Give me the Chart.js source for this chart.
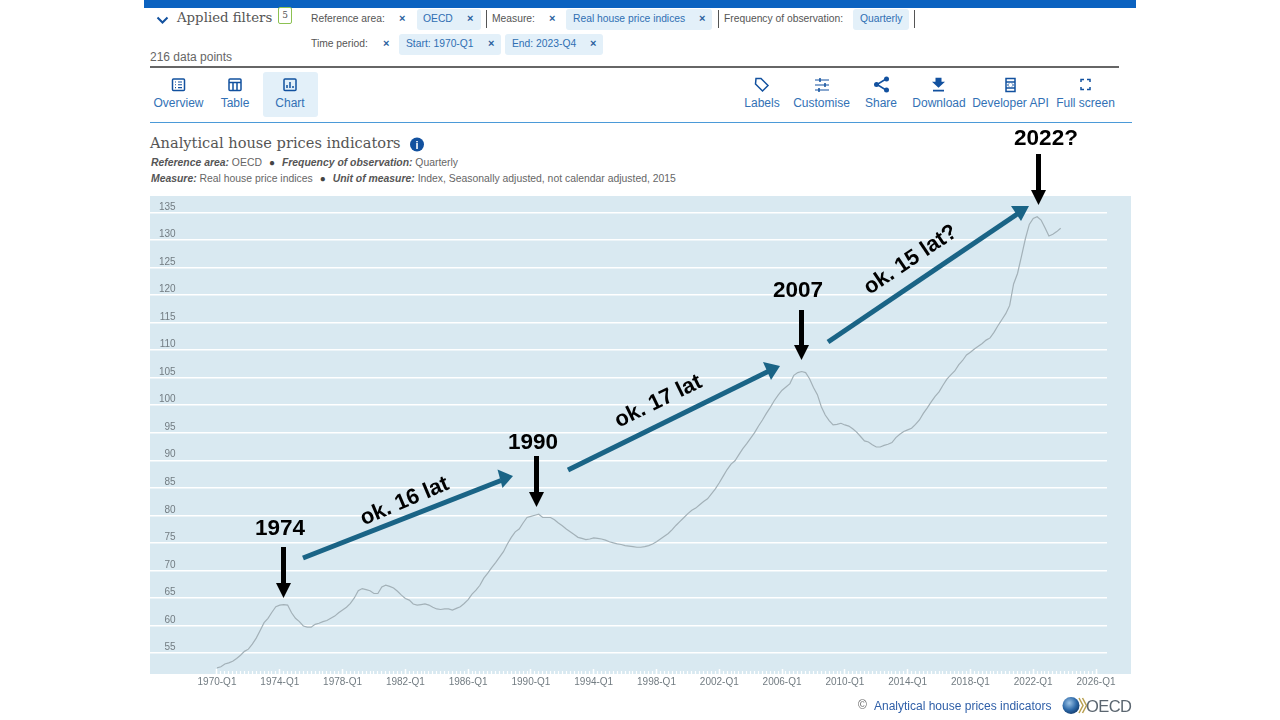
<!DOCTYPE html>
<html lang="en">
<head>
<meta charset="utf-8">
<title>Analytical house prices indicators</title>
<script src="https://cdn.jsdelivr.net/npm/chart.js@4/dist/chart.umd.min.js"></script>
<style>
html,body{margin:0;padding:0;background:#fff;width:1280px;height:720px;overflow:hidden;font-family:"Liberation Sans",Arial,sans-serif}
.t{position:absolute;white-space:nowrap;line-height:16px;height:16px}
.lab{font-size:10.3px;color:#555}
.chip{position:absolute;background:#e3f0f9;border-radius:3px}
.ct{color:#2f6fb3;font-size:10.3px}
.x{color:#2a5f9e;font-size:11px;font-weight:bold}
.bar{position:absolute;width:1px;background:#555}
.tab{color:#3271b5;font-size:12px;text-align:center;transform:translateX(-50%)}
.sub{font-size:10.4px;color:#666}
.sub b{font-style:italic;color:#555}
.dot{color:#444;margin:0 7px;font-size:10px}
.serif{font-family:"DejaVu Serif",serif;color:#555}
#top,#plotbg,#rule1,#rule2,#chartTab{position:absolute}
canvas,#ann{position:absolute;left:0;top:0}
</style>
</head>
<body>
<div id="top" style="left:144px;top:0;width:992px;height:8px;background:#0b62c0"></div>
<div id="plotbg" style="left:150px;top:196px;width:981px;height:478px;background:#d9e9f1"></div>

<div class="t serif" style="left:177px;top:10px;font-size:13.3px">Applied filters</div>
<div style="position:absolute;left:278px;top:7px;width:12px;height:15px;border:1.5px solid #8cc152;border-radius:2px;color:#555;font:9px 'DejaVu Serif',serif;text-align:center;line-height:15px">5</div>

<div class="t lab" style="left:311px;top:11px">Reference area:</div>
<div class="t x" style="left:399px;top:10px">×</div>
<div class="chip" style="left:417px;top:9px;width:64px;height:21px"></div>
<div class="t ct" style="left:423px;top:11px">OECD</div>
<div class="t x" style="left:467px;top:10px">×</div>
<div class="bar" style="left:486px;top:10px;height:18px"></div>
<div class="t lab" style="left:492px;top:11px">Measure:</div>
<div class="t x" style="left:549px;top:10px">×</div>
<div class="chip" style="left:566px;top:9px;width:146px;height:21px"></div>
<div class="t ct" style="left:573px;top:11px">Real house price indices</div>
<div class="t x" style="left:699px;top:10px">×</div>
<div class="bar" style="left:718px;top:10px;height:18px"></div>
<div class="t lab" style="left:724px;top:11px">Frequency of observation:</div>
<div class="chip" style="left:853px;top:9px;width:56px;height:21px"></div>
<div class="t ct" style="left:860px;top:11px">Quarterly</div>
<div class="bar" style="left:914px;top:10px;height:18px"></div>

<div class="t lab" style="left:311px;top:36px">Time period:</div>
<div class="t x" style="left:383px;top:35px">×</div>
<div class="chip" style="left:399px;top:34px;width:102px;height:21px"></div>
<div class="t ct" style="left:406px;top:36px">Start: 1970-Q1</div>
<div class="t x" style="left:488px;top:35px">×</div>
<div class="chip" style="left:505px;top:34px;width:98px;height:21px"></div>
<div class="t ct" style="left:512px;top:36px">End: 2023-Q4</div>
<div class="t x" style="left:590px;top:35px">×</div>

<div class="t" style="left:150px;top:49px;font-size:12px;color:#666">216 data points</div>
<div id="rule1" style="left:150px;top:65.5px;width:969px;height:2px;background:#666"></div>

<div id="chartTab" style="left:263px;top:72px;width:55px;height:45px;background:#e3f0f9;border-radius:3px"></div>
<div class="t tab" style="left:178.5px;top:95px">Overview</div>
<div class="t tab" style="left:235px;top:95px">Table</div>
<div class="t tab" style="left:290px;top:95px">Chart</div>
<div class="t tab" style="left:762px;top:95px">Labels</div>
<div class="t tab" style="left:821.5px;top:95px">Customise</div>
<div class="t tab" style="left:881px;top:95px">Share</div>
<div class="t tab" style="left:939px;top:95px">Download</div>
<div class="t tab" style="left:1010.5px;top:95px">Developer API</div>
<div class="t tab" style="left:1085.5px;top:95px">Full screen</div>
<div id="rule2" style="left:150px;top:122px;width:982px;height:1px;background:#4b9ad8"></div>

<div class="t serif" style="left:150px;top:135px;font-size:14.6px">Analytical house prices indicators</div>
<div class="t sub" style="left:151px;top:155px"><b>Reference area:</b> OECD<span class="dot">●</span><b>Frequency of observation:</b> Quarterly</div>
<div class="t sub" style="left:151px;top:171px"><b>Measure:</b> Real house price indices<span class="dot">●</span><b>Unit of measure:</b> Index, Seasonally adjusted, not calendar adjusted, 2015</div>

<canvas id="chart" width="1280" height="720"></canvas>

<svg id="ann" width="1280" height="720" viewBox="0 0 1280 720" font-family="Liberation Sans, Arial, sans-serif">
  <defs>
    <radialGradient id="globe" cx="40%" cy="35%" r="70%"><stop offset="0" stop-color="#9cc3e6"/><stop offset="0.6" stop-color="#2d69a8"/><stop offset="1" stop-color="#123a6b"/></radialGradient>
  </defs>
  <g fill="none" stroke="#12519f" stroke-width="1.5">
    <path d="M157.500 17.500l5 5 5-5" stroke-width="2"/>
    <rect x="172.500" y="79" width="12" height="11.500" rx="1"/><path d="M175 82h1M178 82h4M175 84.800h1M178 84.800h4M175 87.600h1M178 87.600h4" stroke-width="1.100"/>
    <rect x="229" y="79" width="12" height="11.500" rx="1"/><path d="M229 82.500h12M233 82.500v8M237 82.500v8"/>
    <rect x="284" y="79" width="12" height="11.500" rx="1"/><path d="M287 88v-3M290 88v-6M293 88v-2"/>
    <path d="M756 78.500h5l7 7-5.500 5.500-7-7z"/>
    <path d="M815 80h14M815 85h14M815 90h14" stroke-width="1.200"/>
    <path d="M820 78v4M825 83v4M819 88v4" stroke-width="1.500"/>
    <path d="M886 79l-9 5.500 9 5.500"/>
    <path d="M1006 78.500h9v13h-9z M1006 82h9M1006 88h9"/>
    <path d="M1009 83.500l-1.500 1.500 1.500 1.500M1012 83.500l1.500 1.500-1.500 1.500" stroke-width="1"/>
    <path d="M1081 82v-2.500h3M1087 79.500h3v2.500M1081 87v2.500h3M1087 89.500h3v-2.500"/>
  </g>
  <g fill="#12519f">
    <circle cx="886.500" cy="79" r="2.500"/><circle cx="876.500" cy="84.500" r="2.500"/><circle cx="886.500" cy="90" r="2.500"/>
    <path d="M935.500 78h6v4h3.500l-6.500 6-6.500-6h3.500zM933 90h11v1.600h-11z" transform="translate(0 -.2)"/>
    <circle cx="417" cy="144.500" r="7"/>
  </g>
  <text x="417" y="148.500" font-size="11" font-weight="bold" fill="#fff" text-anchor="middle">i</text>

  <g stroke="#000" stroke-width="5" fill="#000">
    <path d="M283.500 547V585" /><path d="M276 583h15l-7.500 15z" stroke="none"/>
    <path d="M536.500 456V494" /><path d="M529 492h15l-7.500 15z" stroke="none"/>
    <path d="M801.500 310V347" /><path d="M794 345h15l-7.500 15z" stroke="none"/>
    <path d="M1038.500 154V192" /><path d="M1031 190h15l-7.500 15z" stroke="none"/>
  </g>
  <g stroke="#1a6486" stroke-width="5" fill="#1a6486">
    <path d="M303 558L501 480.500"/><path d="M513 476L497.500 469.500L502.500 488z" stroke="none"/>
    <path d="M568 470L769 371"/><path d="M780 366L763 362L771 380z" stroke="none"/>
    <path d="M828 342L1018 213.500"/><path d="M1029 206L1011 206L1021 221z" stroke="none"/>
  </g>
  <g font-weight="bold" font-size="22.500" fill="#000" text-anchor="middle">
    <text x="280" y="535">1974</text>
    <text x="533" y="449">1990</text>
    <text x="798" y="297">2007</text>
    <text x="1046" y="145">2022?</text>
    <text font-size="22" transform="translate(407 507) rotate(-23)">ok. 16 lat</text>
    <text font-size="22" transform="translate(661 407) rotate(-26)">ok. 17 lat</text>
    <text font-size="22" transform="translate(914 265) rotate(-34)">ok. 15 lat?</text>
  </g>

  <text x="858" y="709" font-size="12" fill="#666">©</text>
  <text x="874" y="709.500" font-size="12" fill="#2f5fa8">Analytical house prices indicators</text>
  <circle cx="1071" cy="705.500" r="8.500" fill="url(#globe)"/>
  <path d="M1079 698l4 7.500-4 7.500M1082.500 698l4 7.500-4 7.500" fill="none" stroke="#b9a050" stroke-width="1.500"/>
  <text x="1086" y="711.500" font-size="16.500" fill="#5b6670" letter-spacing="-.6">OECD</text>
</svg>

<script>
const seriesName = 'Real house price indices';
const tickLabels = ['1970-Q1','1974-Q1','1978-Q1','1982-Q1','1986-Q1','1990-Q1','1994-Q1','1998-Q1','2002-Q1','2006-Q1','2010-Q1','2014-Q1','2018-Q1','2022-Q1','2026-Q1'];
const values1970s = [52.3,52.5,53.0,53.2, 53.5,54.0,54.6,55.3, 55.7,56.6,57.7,59.1, 60.5,61.3,62.4,63.4, 63.7,63.8,63.7,62.3, 61.3,60.7,59.9,59.7, 59.7,60.2,60.4,60.7, 60.9,61.3,61.7,62.3, 62.8,63.3,64.0,65.0, 66.3,66.7,66.5,66.3];
const values1980s = [65.8,65.8,67.0,67.3, 67.1,66.8,66.2,65.5, 64.9,64.6,63.9,63.7, 63.8,63.9,63.7,63.3, 63.0,62.9,63.0,63.0, 62.8,63.1,63.4,64.0, 64.7,65.7,66.4,67.3, 68.6,69.5,70.5,71.4, 72.4,73.4,74.8,76.0, 77.0,77.5,78.6,79.6];
const values1990s = [79.8,80.0,80.2,79.6, 79.6,79.6,79.2,78.6, 78.1,77.5,77.0,76.5, 76.0,75.8,75.6,75.7, 75.9,75.8,75.7,75.5, 75.2,75.0,74.8,74.7, 74.5,74.4,74.3,74.2, 74.2,74.3,74.5,74.8, 75.2,75.7,76.2,76.7, 77.4,78.2,78.9,79.6];
const values2000s = [80.3,80.9,81.3,81.9, 82.5,83.0,83.9,84.8, 85.9,87.1,88.3,89.3, 89.9,91.0,92.1,93.0, 94.0,95.0,96.2,97.3, 98.5,99.6,100.8,101.8, 102.7,103.3,103.9,105.4, 105.9,106.1,105.9,104.8, 103.2,101.9,99.7,98.2, 97.2,96.4,96.5,96.7];
const values2010s = [96.4,96.2,95.7,95.1, 94.3,93.5,93.3,92.8, 92.4,92.4,92.7,92.9, 93.2,94.1,94.7,95.2, 95.5,95.8,96.5,97.3, 98.5,99.5,100.6,101.6, 102.4,103.6,104.7,105.5, 106.2,107.3,108.1,109.1, 109.6,110.2,110.7,111.2, 111.8,112.2,113.2,114.4];
const values2020s = [115.5,116.6,118.1,122.0, 123.9,127.0,130.2,132.8, 133.9,134.2,133.6,132.2, 130.7,131.0,131.5,132.1];
const values = [...values1970s, ...values1980s, ...values1990s, ...values2000s, ...values2010s, ...values2020s];

const tickFont = {family:'"Liberation Sans", Arial, sans-serif', size:10};
const tickColor = '#727c82';
const xMin = -17.07, xMax = 226.8, yMin = 51.19, yMax = 137.96;
const keepQuarterTicks = s => { s.ticks = s.ticks.filter(t => t.value >= 0 && t.value <= 224); };
const keepIndexTicks = s => { s.ticks = s.ticks.filter(t => t.value >= 55 && t.value <= 135); };

new Chart(document.getElementById('chart'), {
  type: 'line',
  data: { datasets: [{
    label: seriesName,
    data: values.map((v, i) => ({x: i, y: v})),
    borderColor: '#a3b1b8',
    borderWidth: 1.2,
    pointRadius: 0,
    tension: 0,
    fill: false
  }]},
  options: {
    responsive: false,
    animation: false,
    devicePixelRatio: 1,
    parsing: false,
    layout: { padding: {left:150, top:196, right:173, bottom:0} },
    plugins: { legend: {display:false}, tooltip: {enabled:false} },
    scales: {
      x: {
        type: 'linear', position: 'bottom', min: xMin, max: xMax,
        afterBuildTicks: keepQuarterTicks,
        afterFit: s => { s.height = 46; },
        border: {display:false},
        grid: {drawOnChartArea:false, drawTicks:true, tickLength:-5, tickColor:'#ffffff', tickWidth:1.5},
        ticks: {
          stepSize: 16, autoSkip:false, maxRotation:0, includeBounds:false,
          padding: 7, font: tickFont, color: tickColor,
          callback: v => tickLabels[v / 16] ?? ''
        }
      },
      xq: {
        type: 'linear', axis: 'x', position: {y: yMin}, min: xMin, max: xMax,
        afterBuildTicks: keepQuarterTicks,
        border: {display:false},
        grid: {drawOnChartArea:false, drawTicks:true, tickLength:-3, tickColor:'#ffffff', tickWidth:1.2},
        ticks: { stepSize: 1, autoSkip:false, maxRotation:0, includeBounds:false, display:false }
      },
      y: {
        type: 'linear', position: 'left', min: yMin, max: yMax,
        afterBuildTicks: keepIndexTicks,
        afterFit: s => { s.width = 0; },
        border: {display:false},
        grid: {color:'#ffffff', lineWidth:1.4, drawTicks:false},
        ticks: {
          stepSize: 5, autoSkip:false, includeBounds:false, mirror:true, crossAlign:'far',
          padding: 9, labelOffset: -5.5, font: tickFont, color: tickColor
        }
      }
    }
  }
});
</script>
</body>
</html>
